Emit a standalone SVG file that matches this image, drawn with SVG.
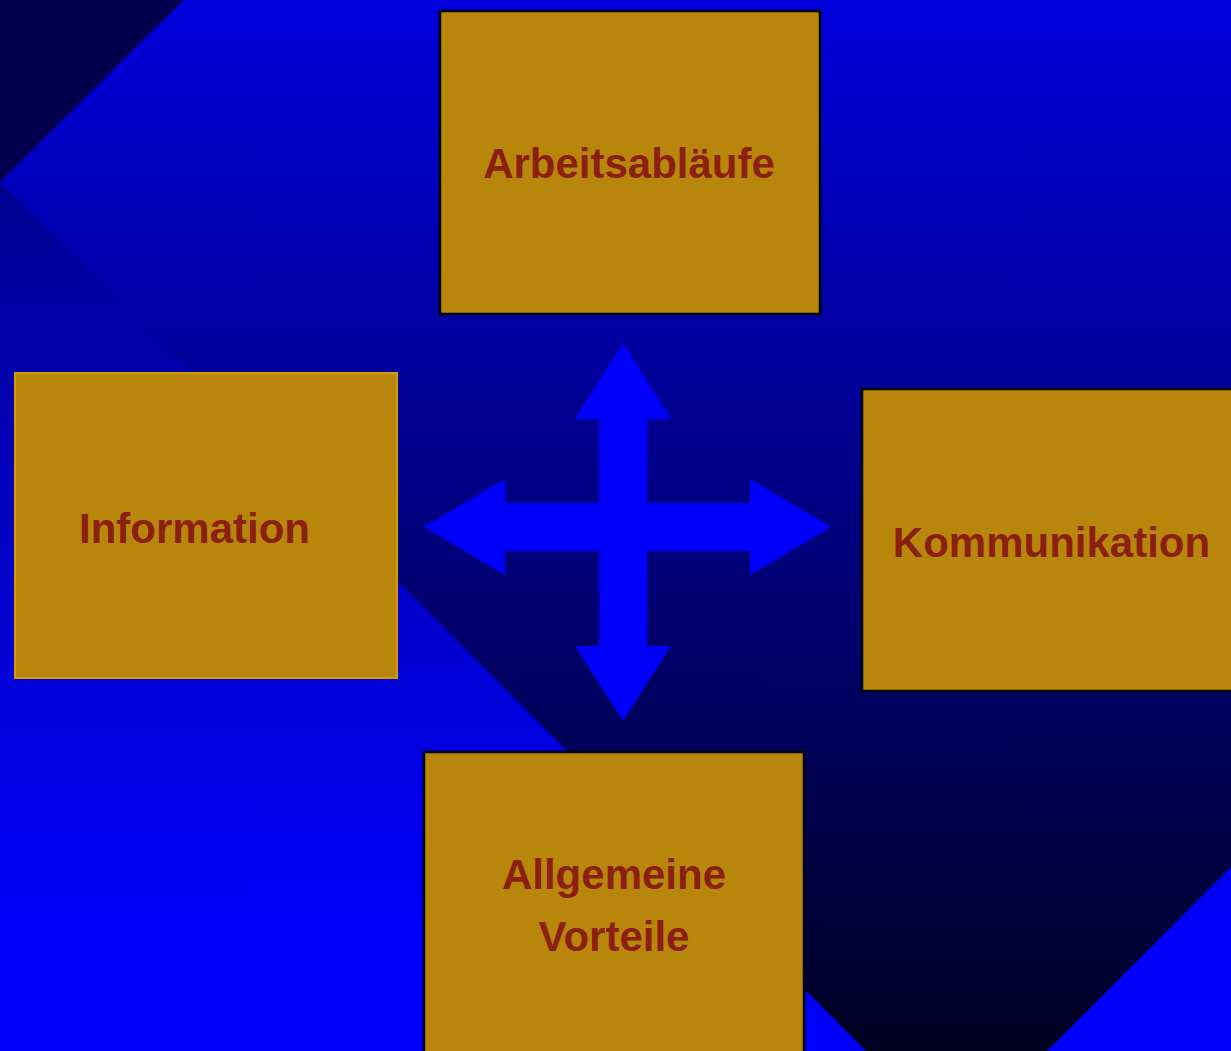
<svg xmlns="http://www.w3.org/2000/svg" width="1231" height="1051" viewBox="0 0 1231 1051">
  <defs>
    <linearGradient id="bgGrad" gradientUnits="userSpaceOnUse" x1="0" y1="185" x2="0" y2="950">
      <stop offset="0" stop-color="#000092"/>
      <stop offset="1" stop-color="#0000FF"/>
    </linearGradient>
    <linearGradient id="chevGrad" gradientUnits="userSpaceOnUse" x1="0" y1="0" x2="0" y2="1051">
      <stop offset="0" stop-color="#0000DD"/>
      <stop offset="1" stop-color="#000022"/>
    </linearGradient>
    <style>
      .box { fill: #B8860B; stroke: #000000; stroke-width: 2.5; }
      .box-light { fill: #B8860B; stroke: #D49E00; stroke-width: 2; }
      .label { font-family: "Liberation Sans", Arial, sans-serif; font-weight: bold; font-size: 42px; fill: #8B2010; text-anchor: middle; }
      .cross { fill: #0000FF; }
    </style>
  </defs>

  <g id="background">
    <rect x="0" y="0" width="1231" height="1051" fill="url(#bgGrad)"/>
    <polygon points="0,0 184,0 0,182" fill="#00004F"/>
    <polygon points="184,0 1231,0 1231,867 1047,1051 866,1051 0,182" fill="url(#chevGrad)"/>
  </g>

  <g id="connectors">
    <polygon class="cross" points="623,343 671,419 647,419 647,503 750,503 750,479 831,527 750,575 750,551 647,551 647,646 671,646 623,721 575,646 599,646 599,551 505,551 505,575 424,527 505,479 505,503 599,503 599,419 575,419"/>
  </g>

  <g id="node-arbeitsablaeufe">
    <rect class="box" x="440" y="11" width="380" height="303"/>
    <text class="label" x="629" y="178">Arbeitsabläufe</text>
  </g>

  <g id="node-information">
    <rect class="box-light" x="15" y="373" width="382" height="305"/>
    <text class="label" x="194.5" y="543">Information</text>
  </g>

  <g id="node-kommunikation">
    <rect class="box" x="862" y="389" width="380" height="302"/>
    <text class="label" x="1051.5" y="557">Kommunikation</text>
  </g>

  <g id="node-allgemeine-vorteile">
    <rect class="box" x="424" y="752" width="380" height="310"/>
    <text class="label" x="614" y="889">Allgemeine</text>
    <text class="label" x="614" y="951">Vorteile</text>
  </g>
</svg>
